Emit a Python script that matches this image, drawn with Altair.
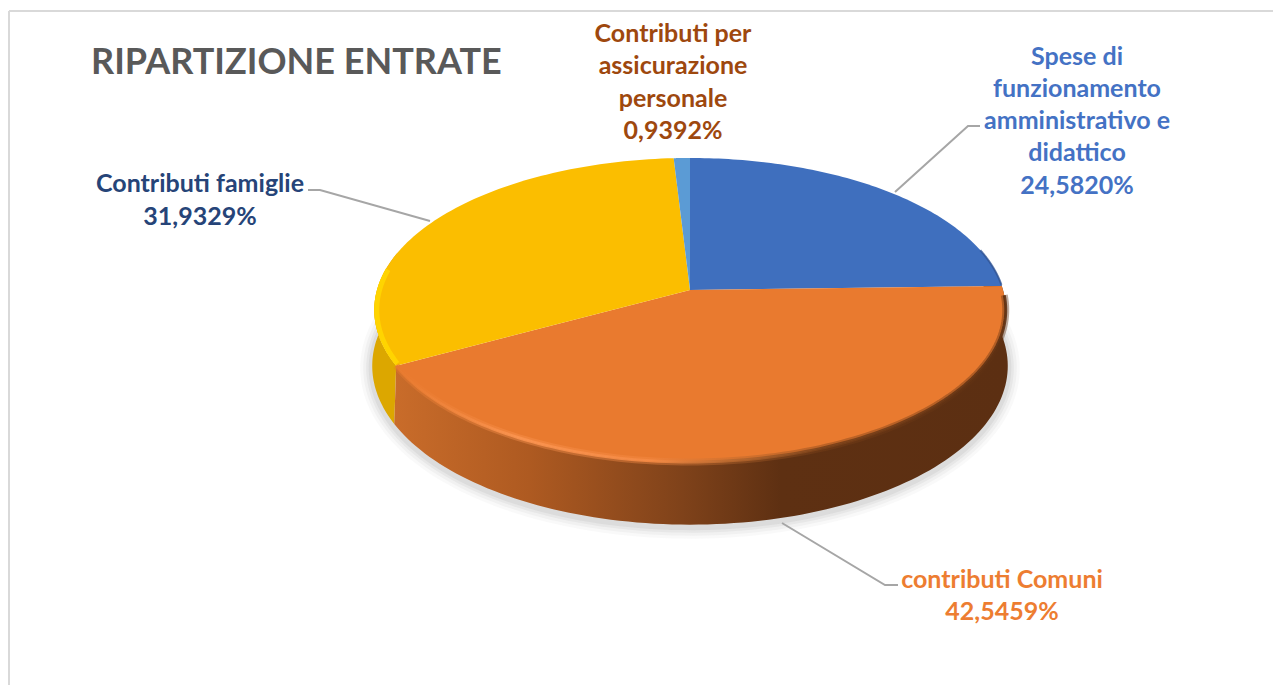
import numpy as np
import pandas as pd
import altair as alt

# ---- data
categories = ["Spese di funzionamento amministrativo e didattico", "contributi Comuni",
              "Contributi famiglie", "Contributi per assicurazione personale"]
shares = [24.5820, 42.5459, 31.9329, 0.9392]
face_colors = ["#3f6fbe", "#e97a2f", "#fbbe00", "#5b9bd5"]

title_text = ["RIPARTIZIONE ENTRATE"]
label_lines = [
    "Contributi  per", "assicurazione", "personale", "0,9392%",
    "Spese di", "funzionamento", "amministrativo  e", "didattico", "24,5820%",
    "Contributi  famiglie", "31,9329%",
    "contributi  Comuni", "42,5459%",
]
label_x = [673] * 4 + [1077] * 5 + [200] * 2 + [1002] * 2
label_y = [34, 66, 99, 131, 57, 89, 121, 153, 186, 184, 217, 580, 612]
label_colors = ["#9e480e"] * 4 + ["#4472c4"] * 5 + ["#264478"] * 2 + ["#ed7d31"] * 2

leader_x = [[980, 968, 895], [782, 885, 898], [430, 320, 308]]
leader_y = [[126, 126, 192], [523, 585, 585], [221, 190, 190]]

# ---- tilted-disc geometry (a page-space view of the pie)
W, H = 1265, 677
OFF = 8
CX, CY, RX, RY, K = 690.0, 290.0, 313.0, 149.4, 0.1316
DROP, RX2, RY2 = 55.0, 315.0, 156.0


def top(theta):
    u, v = np.sin(theta), np.cos(theta)
    w = 1 + K * v
    return CX + RX * u / w, CY - RY * v / w


def bottom(theta, extra=0.0):
    u, v = np.sin(theta), np.cos(theta)
    w = 1 + K * v
    return CX + RX2 * u / w, CY + DROP + extra - RY2 * v / w


def frame(xs, ys):
    return pd.DataFrame({"x": np.asarray(xs, float), "y": np.asarray(ys, float), "i": np.arange(len(xs))})


X = alt.X("x:Q", scale=alt.Scale(domain=[OFF, OFF + W], nice=False, zero=False), axis=None)
Y = alt.Y("y:Q", scale=alt.Scale(domain=[OFF + H, OFF], nice=False, zero=False), axis=None)
O = alt.Order("i:Q")


def shape(df, fill):
    return alt.Chart(df).mark_line(fill=fill, strokeWidth=0, interpolate="linear", clip=True).encode(x=X, y=Y, order=O)


def stroke(df, color, width, opacity=1.0):
    return alt.Chart(df).mark_line(stroke=color, strokeWidth=width, opacity=opacity, strokeCap="butt", clip=True).encode(x=X, y=Y, order=O)


def grad(x1, x2, stops):
    return alt.LinearGradient(
        gradient="linear", x1=x1, x2=x2, y1=0, y2=0,
        stops=[alt.GradientStop(offset=o, color=c) for o, c in stops],
    )


edges = np.radians(np.concatenate([[0], np.cumsum(shares)]) * 3.6)
layers = []

# frame
layers.append(stroke(frame([9, 9], [11, 685]), "#d9d9d9", 2))
layers.append(stroke(frame([9, 1273], [11, 11]), "#d9d9d9", 2))

# soft shadow under the disc
sh = np.linspace(np.radians(62), np.radians(292), 140)
for width, op in [(24, 0.05), (18, 0.07), (12, 0.09), (7, 0.12)]:
    sx, sy = bottom(sh, 2.0)
    layers.append(stroke(frame(sx, sy), "#8a8a8a", width, op))

# side wall
def wall(a, b, fill):
    t = np.linspace(a, b, 120)
    tx, ty = top(t)
    bx, by = bottom(t)
    return shape(frame(np.r_[tx, bx[::-1]], np.r_[ty, by[::-1]]), fill)


wall_grad = grad(0, 1, [(0.0, "#c96c2a"), (0.22, "#ae5a21"), (0.47, "#7f421a"), (0.63, "#5e3012"), (1.0, "#5c2f12")])
layers.append(wall(edges[2], np.radians(285), "#dca700"))
layers.append(wall(np.radians(75), edges[2], wall_grad))

# top faces
for i, col in enumerate(face_colors):
    t = np.linspace(edges[i], edges[i + 1], 90)
    fx, fy = top(t)
    layers.append(shape(frame(np.r_[CX, fx, CX], np.r_[CY, fy, CY]), col))

# rim bevel
def rim(a, b, inset=0.0):
    t = np.linspace(a, b, 120)
    rx, ry = top(t)
    return frame(rx + (CX - rx) * inset, ry + (CY - ry) * inset)


rim_grad = grad(0, 1, [(0.0, "#e8792d"), (0.2, "#fb9450"), (0.42, "#f58a44"), (0.55, "#b8682e"), (0.7, "#7a4018"), (1.0, "#5e3012")])
layers.append(stroke(rim(np.radians(92), edges[2]), rim_grad, 7, 0.4))
layers.append(stroke(rim(np.radians(92), edges[2]), rim_grad, 3, 0.9))
layers.append(stroke(rim(edges[2] + 0.01, np.radians(278), 0.008), "#ffd400", 5))
layers.append(stroke(rim(np.radians(74), np.radians(88)), "#2f5597", 2, 0.8))

# leader lines
for lx, ly in zip(leader_x, leader_y):
    layers.append(stroke(frame(lx, ly), "#a6a6a6", 2))

# title and labels
layers.append(
    alt.Chart(pd.DataFrame({"x": [91], "y": [63], "t": title_text})).mark_text(
        font="Lato", fontWeight="bold", fontSize=36, align="left", baseline="middle", color="#595959"
    ).encode(x=X, y=Y, text="t:N")
)
labels = pd.DataFrame({"x": label_x, "y": label_y, "t": label_lines, "c": label_colors})
layers.append(
    alt.Chart(labels).mark_text(font="Lato", fontWeight="bold", fontSize=25, align="center", baseline="middle").encode(
        x=X, y=Y, text="t:N", color=alt.Color("c:N", scale=None)
    )
)

chart = alt.layer(*layers).properties(width=W, height=H, padding=0, background="white").configure_view(stroke=None)
chart.save("out.html", embed_options={"renderer": "svg", "actions": False})
